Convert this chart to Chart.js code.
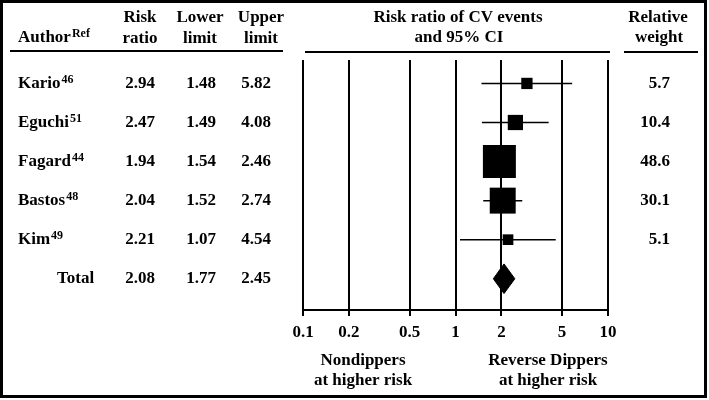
<!DOCTYPE html>
<html>
<head>
<meta charset="utf-8">
<script src="https://cdn.jsdelivr.net/npm/chart.js@4/dist/chart.umd.min.js"></script>
<style>
  html, body { margin: 0; padding: 0; background: #fff; }
</style>
</head>
<body>
<canvas id="myChart" width="709" height="400"></canvas>
<script>
// study data
const authors = ['Kario', 'Eguchi', 'Fagard', 'Bastos', 'Kim'];
const refs = ['46', '51', '44', '48', '49'];
const riskRatio = [2.94, 2.47, 1.94, 2.04, 2.21];
const lowerLimit = [1.48, 1.49, 1.54, 1.52, 1.07];
const upperLimit = [5.82, 4.08, 2.46, 2.74, 4.54];
const weights = [5.7, 10.4, 48.6, 30.1, 5.1];
// pooled estimate: risk ratio, lower, upper
const totalRow = [2.08, 1.77, 2.45];
const xTicks = [0.1, 0.2, 0.5, 1, 2, 5, 10];

const FONT = '"Liberation Serif", "Times New Roman", serif';
const totalY = authors.length;
const diamondHalf = 0.38;

function fmt(v) {
    return v.toFixed(2);
}

const ciSets = authors.map((a, i) => ({
    type: 'line',
    label: a + ' CI',
    data: [{x: lowerLimit[i], y: i}, {x: upperLimit[i], y: i}],
    borderColor: '#000',
    borderWidth: 1.5,
    pointRadius: 0,
    fill: false
}));

const boxSet = {
    type: 'scatter',
    label: 'Risk ratio',
    data: riskRatio.map((v, i) => ({x: v, y: i})),
    pointStyle: 'rect',
    backgroundColor: '#000',
    borderColor: '#000',
    borderWidth: 0,
    pointRadius: weights.map(w => 4.73 * Math.sqrt(w) / Math.SQRT2),
    pointHoverRadius: weights.map(w => 4.73 * Math.sqrt(w) / Math.SQRT2)
};

const diamondTop = {
    type: 'line',
    label: 'Total top',
    data: [{x: totalRow[1], y: totalY}, {x: totalRow[0], y: totalY - diamondHalf}, {x: totalRow[2], y: totalY}],
    borderColor: '#000',
    borderWidth: 1,
    pointRadius: 0,
    tension: 0,
    fill: false
};
const diamondBottom = {
    type: 'line',
    label: 'Total bottom',
    data: [{x: totalRow[1], y: totalY}, {x: totalRow[0], y: totalY + diamondHalf}, {x: totalRow[2], y: totalY}],
    borderColor: '#000',
    backgroundColor: '#000',
    borderWidth: 1,
    pointRadius: 0,
    tension: 0,
    fill: '-1'
};

const tablePlugin = {
    id: 'table',
    afterDraw(chart) {
        const ctx = chart.ctx;
        const ys = chart.scales.y;
        const big = 'bold 17px ' + FONT;
        const small = 'bold 12px ' + FONT;

        function supText(txt, sup, x, y) {
            ctx.font = big;
            ctx.textAlign = 'left';
            ctx.fillText(txt, x, y);
            const w = ctx.measureText(txt).width;
            ctx.font = small;
            ctx.fillText(sup, x + w + 1, y - 4);
            ctx.font = big;
        }
        function centered(txt, x, y) {
            ctx.textAlign = 'center';
            ctx.fillText(txt, x, y);
        }

        ctx.save();
        ctx.fillStyle = '#000';
        ctx.strokeStyle = '#000';
        ctx.textBaseline = 'middle';
        ctx.font = big;

        // headers
        supText('Author', 'Ref', 18, 38);
        ctx.font = big;
        centered('Risk', 140, 18);
        centered('ratio', 140, 39);
        centered('Lower', 200, 18);
        centered('limit', 200, 39);
        centered('Upper', 261, 18);
        centered('limit', 261, 39);
        centered('Risk ratio of CV events', 458, 18);
        centered('and 95% CI', 459, 38);
        centered('Relative', 658, 18);
        centered('weight', 659, 38);

        ctx.lineWidth = 2;
        ctx.beginPath();
        ctx.moveTo(10, 51); ctx.lineTo(283, 51);
        ctx.moveTo(305, 52); ctx.lineTo(610, 52);
        ctx.moveTo(624, 52); ctx.lineTo(698, 52);
        ctx.stroke();

        // rows
        authors.forEach((a, i) => {
            const y = ys.getPixelForValue(i);
            supText(a, refs[i], 18, y);
            centered(fmt(riskRatio[i]), 140, y);
            centered(fmt(lowerLimit[i]), 201, y);
            centered(fmt(upperLimit[i]), 256, y);
            ctx.textAlign = 'right';
            ctx.fillText(weights[i].toFixed(1), 670, y);
        });
        const ty = ys.getPixelForValue(totalY);
        ctx.textAlign = 'left';
        ctx.fillText('Total', 57, ty);
        centered(fmt(totalRow[0]), 140, ty);
        centered(fmt(totalRow[1]), 201, ty);
        centered(fmt(totalRow[2]), 256, ty);

        // direction labels
        centered('Nondippers', 363, 361);
        centered('at higher risk', 363, 381);
        centered('Reverse Dippers', 548, 361);
        centered('at higher risk', 548, 381);

        // frame
        ctx.lineWidth = 3;
        ctx.strokeRect(1.5, 1.5, 704, 395);
        ctx.restore();
    }
};

const ctx = document.getElementById('myChart').getContext('2d');
const chart = new Chart(ctx, {
    type: 'scatter',
    data: {
        datasets: [...ciSets, boxSet, diamondTop, diamondBottom]
    },
    options: {
        responsive: false,
        animation: false,
        layout: {padding: {left: 303, right: 101, top: 60, bottom: 0}},
        plugins: {
            legend: {display: false},
            tooltip: {enabled: false}
        },
        scales: {
            x: {
                type: 'logarithmic',
                min: 0.1,
                max: 10,
                afterBuildTicks: (scale) => {
                    scale.ticks = xTicks.map(v => ({value: v}));
                },
                afterFit: (scale) => {
                    scale.height = 90;
                },
                grid: {color: '#000', lineWidth: 2, tickLength: 6, drawTicks: true},
                border: {color: '#000', width: 2},
                ticks: {
                    autoSkip: false,
                    maxRotation: 0,
                    padding: 6,
                    color: '#000',
                    font: {family: FONT, size: 17, weight: 'bold'},
                    callback: (v) => String(v)
                }
            },
            y: {
                type: 'linear',
                min: -0.6,
                max: 5.8,
                reverse: true,
                display: false
            }
        }
    },
    plugins: [tablePlugin]
});
</script>
</body>
</html>
